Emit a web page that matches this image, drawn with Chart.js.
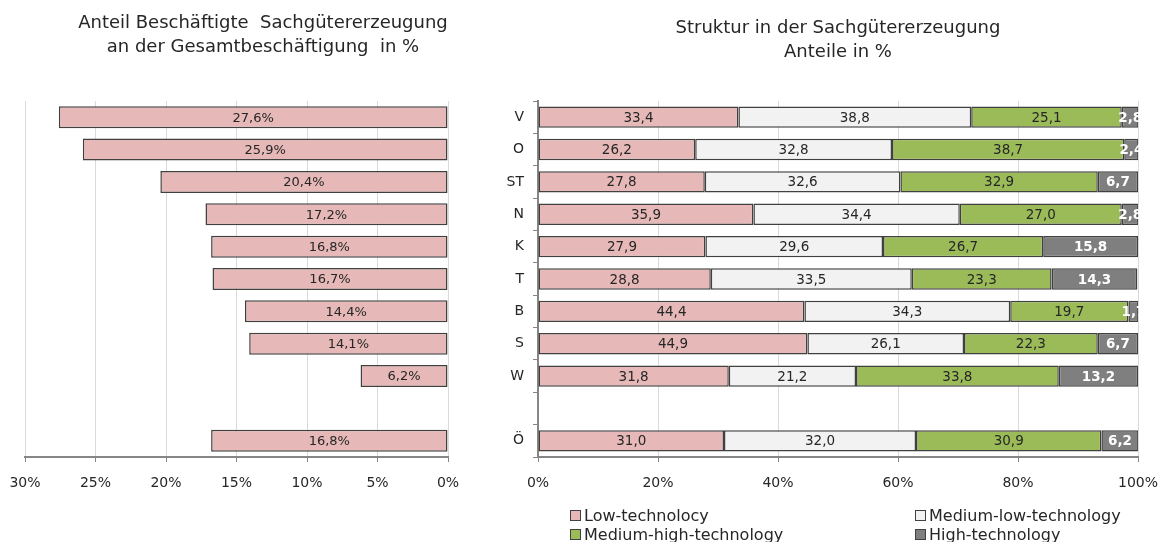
<!DOCTYPE html>
<html>
<head>
<meta charset="utf-8">
<script src="https://cdn.jsdelivr.net/npm/chart.js@4/dist/chart.umd.min.js"></script>
<style>
  html,body{margin:0;padding:0;background:#fff;}
  #wrap{position:relative;width:1160px;height:542px;overflow:hidden;font-family:"DejaVu Sans",sans-serif;color:#262626;}
  #c1{position:absolute;left:0;top:0;}
  #c2{position:absolute;left:490px;top:0;}
  .title{position:absolute;text-align:center;font-size:18px;line-height:24px;white-space:pre;}
  .leg{position:absolute;font-size:16px;white-space:nowrap;line-height:18px;}
  .leg span.box{display:inline-block;width:9px;height:9px;border:1px solid #404040;margin-right:3px;vertical-align:0px;}
</style>
</head>
<body>
<div id="wrap">
  <canvas id="c1" width="490" height="542"></canvas>
  <canvas id="c2" width="670" height="542"></canvas>
  <div class="title" style="left:63px;top:10px;width:400px;">Anteil Beschäftigte  Sachgütererzeugung
an der Gesamtbeschäftigung  in %</div>
  <div class="title" style="left:638px;top:15px;width:400px;">Struktur in der Sachgütererzeugung
Anteile in %</div>
  <div id="legend"></div>
</div>
<script>
// ---- data ----
const regions = ['V','O','ST','N','K','T','B','S','W','','Ö'];
const shareManufacturing = [27.6, 25.9, 20.4, 17.2, 16.8, 16.7, 14.4, 14.1, 6.2, null, 16.8];
const seriesNames = ['Low-technolocy','Medium-low-technology','Medium-high-technology','High-technology'];
const lowTech     = [33.4, 26.2, 27.8, 35.9, 27.9, 28.8, 44.4, 44.9, 31.8, null, 31.0];
const medLowTech  = [38.8, 32.8, 32.6, 34.4, 29.6, 33.5, 34.3, 26.1, 21.2, null, 32.0];
const medHighTech = [25.1, 38.7, 32.9, 27.0, 26.7, 23.3, 19.7, 22.3, 33.8, null, 30.9];
const highTech    = [2.8, 2.4, 6.7, 2.8, 15.8, 14.3, 1.7, 6.7, 13.2, null, 6.2];
const leftTicks = [0,5,10,15,20,25,30];
const rightTicks = [0,20,40,60,80,100];

const colors = ['#e6b9b8','#f2f2f2','#9bbb59','#7f7f7f'];
const labelColors = ['#262626','#262626','#262626','#ffffff'];
const FONT = '"DejaVu Sans", sans-serif';

const fmt = v => v.toFixed(1).replace('.', ',');

const barLabels = {
  id:'barLabels',
  afterDatasetsDraw(chart, args, opts){
    const ctx = chart.ctx;
    ctx.save();
    ctx.textAlign = 'center';
    ctx.textBaseline = 'middle';
    chart.data.datasets.forEach((ds,i)=>{
      const meta = chart.getDatasetMeta(i);
      if (meta.hidden) return;
      meta.data.forEach((el,j)=>{
        const v = ds.data[j];
        if (v == null) return;
        const p = el.getProps(['x','y','base'], true);
        const cx = (p.x + p.base)/2;
        ctx.fillStyle = ds.labelColor || '#262626';
        ctx.font = (ds.labelBold ? 'bold ' : '') + (opts.size || 13) + 'px ' + FONT;
        ctx.fillText(fmt(v) + (opts.suffix || ''), cx, p.y + 1);
      });
    });
    ctx.restore();
  }
};

Chart.defaults.font.family = FONT;
Chart.defaults.color = '#262626';
Chart.defaults.animation = false;

const fixX = s => { s.height = 85; s.paddingLeft = 0; s.paddingRight = 0; };

// ---- left chart ----
new Chart(document.getElementById('c1'), {
  type:'bar',
  data:{
    labels: regions,
    datasets:[{
      data: shareManufacturing,
      backgroundColor: colors[0],
      borderColor:'#404040',
      borderWidth:1.5,
      borderSkipped:false,
      categoryPercentage:0.68,
      barPercentage:1
    }]
  },
  options:{
    indexAxis:'y',
    responsive:false,
    layout:{padding:{left:25,right:42,top:101,bottom:0}},
    plugins:{legend:{display:false},tooltip:{enabled:false},barLabels:{suffix:'%', size:13}},
    scales:{
      x:{
        reverse:true, min:0, max:30,
        afterBuildTicks: s => { s.ticks = leftTicks.map(v=>({value:v})); },
        afterFit: fixX,
        grid:{color:'#d9d9d9', tickColor:'#868686', tickLength:5, lineWidth:1},
        border:{color:'#868686', width:2},
        ticks:{font:{size:14}, padding:13, callback:v=>v+'%', color:'#262626'}
      },
      y:{display:false}
    }
  },
  plugins:[barLabels]
});

// ---- right chart ----
const dsArr = [lowTech, medLowTech, medHighTech, highTech].map((d,i)=>({
  label: seriesNames[i],
  data: d,
  backgroundColor: colors[i],
  borderColor:'#404040',
  borderWidth:1.5,
  borderSkipped:false,
  categoryPercentage:0.66,
  barPercentage:1,
  labelColor: labelColors[i],
  labelBold: i===3
}));

new Chart(document.getElementById('c2'), {
  type:'bar',
  data:{ labels: regions, datasets: dsArr },
  options:{
    indexAxis:'y',
    responsive:false,
    layout:{padding:{left:0,right:22,top:101,bottom:0}},
    plugins:{legend:{display:false},tooltip:{enabled:false},barLabels:{suffix:'', size:13.5}},
    scales:{
      x:{
        stacked:true, min:0, max:100,
        afterBuildTicks: s => { s.ticks = rightTicks.map(v=>({value:v})); },
        afterFit: fixX,
        grid:{color:'#d9d9d9', tickColor:'#868686', tickLength:5},
        border:{color:'#868686', width:2},
        ticks:{font:{size:14}, padding:13, callback:v=>v+'%', color:'#262626'}
      },
      y:{
        stacked:true,
        afterFit: s => { s.width = 48; },
        grid:{offset:true, drawOnChartArea:false, tickColor:'#868686', tickLength:5},
        border:{color:'#868686', width:2},
        ticks:{font:{size:14}, padding:9, color:'#262626'}
      }
    }
  },
  plugins:[barLabels]
});

// ---- legend (HTML text) ----
const legPos = [[570,507],[915,507],[570,526],[915,526]];
const legend = document.getElementById('legend');
seriesNames.forEach((n,i)=>{
  const d = document.createElement('div');
  d.className = 'leg';
  d.style.left = legPos[i][0]+'px';
  d.style.top = legPos[i][1]+'px';
  d.innerHTML = '<span class="box" style="background:'+colors[i]+'"></span>' + n;
  legend.appendChild(d);
});
</script>
</body>
</html>
